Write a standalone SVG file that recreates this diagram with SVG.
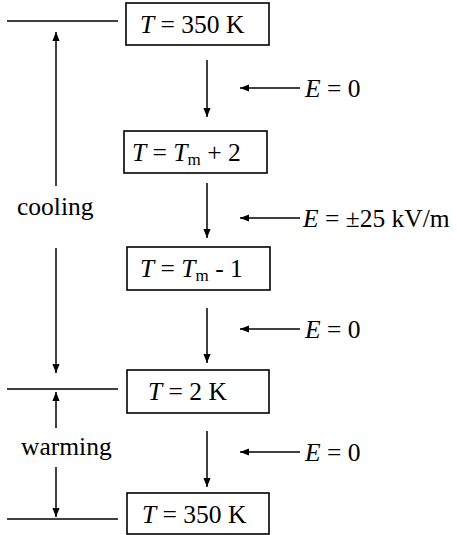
<svg xmlns="http://www.w3.org/2000/svg" width="457" height="535" viewBox="0 0 457 535">
<defs>
<marker id="ah" viewBox="0 0 10 8" refX="10" refY="4" markerWidth="9" markerHeight="8" markerUnits="userSpaceOnUse" orient="auto">
<path d="M0,0 L10,4 L0,8 Z" fill="#000"/>
</marker>
<style>
.box{fill:#fff;stroke:#000;stroke-width:1.6}
.ln{stroke:#000;stroke-width:1.5;fill:none}
.ar{stroke:#000;stroke-width:1.5;fill:none;marker-end:url(#ah)}
text{font-family:"Liberation Serif","Times New Roman",serif;font-size:25.5px;fill:#000}
.i{font-style:italic}
.sub{font-size:17px}
</style>
</defs>
<g id="node1"><rect class="box" x="126" y="3" width="143" height="42"/><text x="140" y="33"><tspan class="i">T</tspan> = 350 K</text></g>
<g id="node2"><rect class="box" x="124" y="131" width="143" height="42"/><text x="132" y="161"><tspan class="i">T</tspan> = <tspan class="i">T</tspan><tspan class="sub" dy="4">m</tspan><tspan dy="-4"> + 2</tspan></text></g>
<g id="node3"><rect class="box" x="127" y="247" width="143" height="43"/><text x="140" y="277"><tspan class="i">T</tspan> = <tspan class="i">T</tspan><tspan class="sub" dy="4">m</tspan><tspan dy="-4"> - 1</tspan></text></g>
<g id="node4"><rect class="box" x="127" y="370" width="142" height="43"/><text x="148" y="400"><tspan class="i">T</tspan> = 2 K</text></g>
<g id="node5"><rect class="box" x="127" y="493" width="142" height="41"/><text x="142" y="523"><tspan class="i">T</tspan> = 350 K</text></g>
<g id="labels">
<text x="305" y="97"><tspan class="i">E</tspan> = 0</text>
<text x="303" y="227"><tspan class="i">E</tspan> = ±25 kV/m</text>
<text x="305" y="338"><tspan class="i">E</tspan> = 0</text>
<text x="305" y="461"><tspan class="i">E</tspan> = 0</text>
<text x="17" y="215">cooling</text>
<text x="21" y="455">warming</text>
</g>
<g id="connectors">
<line class="ln" x1="7" y1="21" x2="118" y2="21"/>
<line class="ln" x1="7" y1="389" x2="118" y2="389"/>
<line class="ln" x1="7" y1="519" x2="118" y2="519"/>
<line class="ar" x1="56" y1="186" x2="56" y2="32"/>
<line class="ar" x1="56" y1="248" x2="56" y2="373"/>
<line class="ar" x1="56" y1="428" x2="56" y2="392"/>
<line class="ar" x1="56" y1="467" x2="56" y2="517"/>
<line class="ar" x1="207" y1="60" x2="207" y2="117"/>
<line class="ar" x1="207" y1="183" x2="207" y2="238"/>
<line class="ar" x1="207" y1="308" x2="207" y2="363"/>
<line class="ar" x1="207" y1="431" x2="207" y2="487"/>
<line class="ar" x1="300" y1="88" x2="240" y2="88"/>
<line class="ar" x1="300" y1="218" x2="240" y2="218"/>
<line class="ar" x1="300" y1="329" x2="240" y2="329"/>
<line class="ar" x1="300" y1="452" x2="240" y2="452"/>
</g>
</svg>
